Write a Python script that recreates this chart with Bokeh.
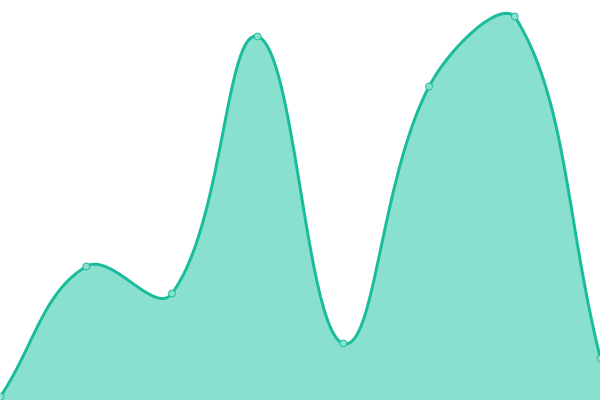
import numpy as np
from bokeh.plotting import figure
from bokeh.models import Range1d
from bokeh.embed import file_html
from bokeh.resources import INLINE

# data
labels = ["A", "B", "C", "D", "E", "F", "G", "H"]
values = [4, 134, 107, 364, 57, 314, 384, 42]
y_max = 400

W, H = 600, 400
n = len(values)
xs = np.linspace(0, W, n)
ys = np.array(values, dtype=float)

# Chart.js-like spline (tension 0.4), computed in screen units (1:1 with data here)
t = 0.4
cps = []
for i in range(n):
    p0 = np.array([xs[max(i - 1, 0)], ys[max(i - 1, 0)]])
    p1 = np.array([xs[i], ys[i]])
    p2 = np.array([xs[min(i + 1, n - 1)], ys[min(i + 1, n - 1)]])
    d01 = np.hypot(*(p1 - p0))
    d12 = np.hypot(*(p2 - p1))
    s = d01 + d12
    fa = t * d01 / s if s else 0
    fb = t * d12 / s if s else 0
    c_prev = p1 - fa * (p2 - p0)
    c_next = p1 + fb * (p2 - p0)
    c_prev = np.clip(c_prev, [0, 0], [W, y_max])
    c_next = np.clip(c_next, [0, 0], [W, y_max])
    cps.append((c_prev, c_next))

cx, cy = [], []
tt = np.linspace(0, 1, 60)
for i in range(n - 1):
    a = np.array([xs[i], ys[i]])
    b = cps[i][1]
    c = cps[i + 1][0]
    d = np.array([xs[i + 1], ys[i + 1]])
    seg = ((1 - tt) ** 3)[:, None] * a + (3 * (1 - tt) ** 2 * tt)[:, None] * b \
        + (3 * (1 - tt) * tt ** 2)[:, None] * c + (tt ** 3)[:, None] * d
    if i > 0:
        seg = seg[1:]
    cx.extend(seg[:, 0])
    cy.extend(seg[:, 1])

p = figure(width=W, height=H, output_backend="svg", toolbar_location=None,
           x_range=Range1d(0, W), y_range=Range1d(0, y_max), min_border=0)
p.axis.visible = False
p.grid.visible = False
p.outline_line_color = None
p.background_fill_color = "white"

teal = "#1abc9c"
p.patch([0] + cx + [W], [0] + cy + [0], fill_color="#8ae0cf", fill_alpha=1.0, line_color=None)
p.line(cx, cy, line_color=teal, line_width=3)
p.scatter(xs, ys, size=7, fill_color="#8ae0cf", line_color=teal, line_width=1)

html = file_html(p, INLINE)
html = html.replace("<head>", "<head><style>html,body{margin:0;padding:0;overflow:hidden}</style>", 1)
open("out.html", "w").write(html)
